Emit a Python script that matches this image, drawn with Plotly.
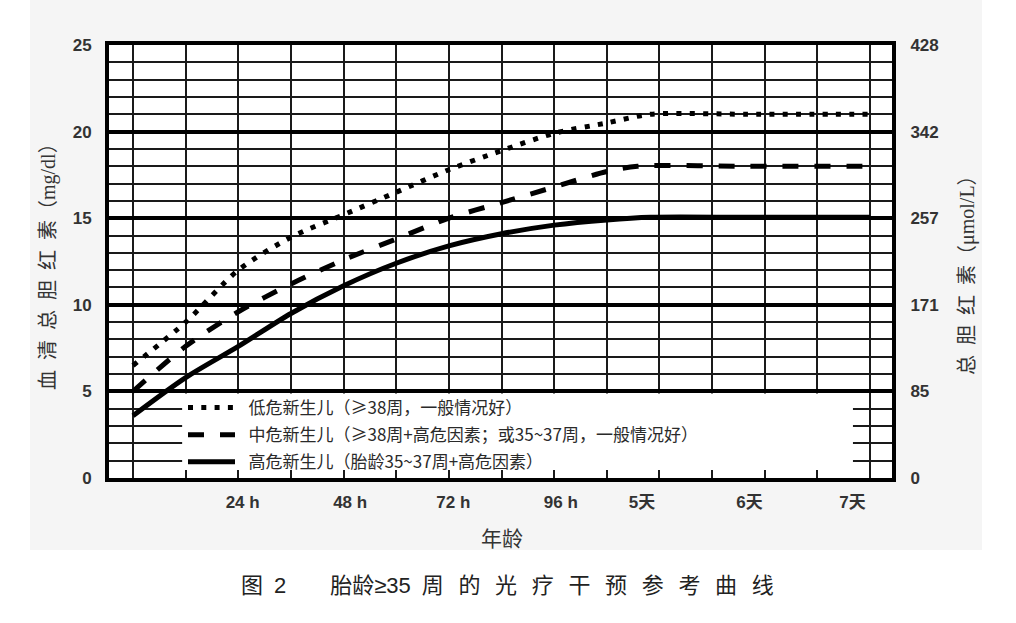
import plotly.graph_objects as go

# ---- data ----
low_hours = [0, 12, 24, 36, 48, 60, 72, 84, 96, 108, 118, 140, 168]
low_risk = [6.5, 9.0, 12.0, 13.9, 15.2, 16.5, 17.8, 18.9, 19.9, 20.5, 21.0, 21.0, 21.0]

mid_hours = [0, 12, 24, 36, 48, 60, 72, 84, 96, 108, 115, 140, 168]
mid_risk = [5.0, 7.6, 9.6, 11.2, 12.6, 13.8, 15.0, 15.9, 16.8, 17.7, 18.0, 18.0, 18.0]

high_hours = [0, 12, 24, 36, 48, 60, 72, 84, 96, 108, 118, 140, 168]
high_risk = [3.6, 5.8, 7.6, 9.5, 11.1, 12.4, 13.4, 14.1, 14.6, 14.9, 15.05, 15.05, 15.05]

series_names = [
    "低危新生儿（≥38周，一般情况好）",
    "中危新生儿（≥38周+高危因素；或35~37周，一般情况好）",
    "高危新生儿（胎龄35~37周+高危因素）",
]

x_tick_pos = [25, 49.5, 73, 97.5, 116, 140.5, 164]
x_tick_text = ["24 h", "48 h", "72 h", "96 h", "5天", "6天", "7天"]

y_left_ticks = [0, 5, 10, 15, 20, 25]
y_right_text = ["0", "85", "171", "257", "342", "428"]

# ---- figure ----
W, H = 1016, 623
L, R, T, B = 109, 124, 45, 145
pw, ph = W - L - R, H - T - B


def px_x(p):
    return (p - L) / pw


def px_y(p):
    return (H - B - p) / ph


fig = go.Figure()

styles = [
    dict(color="black", width=5, dash="5px,8.3px"),
    dict(color="black", width=5, dash="16px,16px"),
    dict(color="black", width=5),
]
for xs, ys, name, st in zip(
    [low_hours, mid_hours, high_hours],
    [low_risk, mid_risk, high_risk],
    series_names,
    styles,
):
    fig.add_trace(
        go.Scatter(
            x=xs, y=ys, mode="lines", name="\u2002" + name,
            line=dict(shape="spline", smoothing=0.8, **st),
            legendgroup=name,
        )
    )

tick_font = dict(family="Liberation Sans, Arial, Noto Sans CJK SC", size=17,
                 color="#333", weight="bold")

fig.update_layout(
    width=W, height=H,
    margin=dict(l=L, r=R, t=T, b=B, pad=0),
    paper_bgcolor="white",
    plot_bgcolor="white",
    showlegend=True,
    legend=dict(
        x=px_x(183), y=px_y(390), xanchor="left", yanchor="top",
        bgcolor="rgba(0,0,0,0)", borderwidth=0,
        itemwidth=47, tracegroupgap=2,
        font=dict(family="Noto Sans CJK SC", size=17, color="#2a2a2a"),
        itemclick=False, itemdoubleclick=False,
    ),
    xaxis=dict(
        range=[-5.47, 173.0],
        tickmode="array", tickvals=x_tick_pos, ticktext=x_tick_text,
        ticks="outside", ticklen=6, tickcolor="rgba(0,0,0,0)",
        tickfont=tick_font,
        showgrid=False, zeroline=False,
        showline=True, linewidth=4, linecolor="black", mirror=True,
        minor=dict(tick0=0, dtick=12, showgrid=True, gridcolor="#1a1a1a",
                   gridwidth=2, ticks="inside", ticklen=8, tickwidth=2,
                   tickcolor="#1a1a1a"),
        fixedrange=True,
    ),
    yaxis=dict(
        range=[0, 25],
        tickmode="array", tickvals=y_left_ticks,
        ticks="outside", ticklen=10, tickcolor="rgba(0,0,0,0)",
        tickfont=tick_font,
        showgrid=True, gridcolor="black", gridwidth=3.5,
        zeroline=False,
        showline=True, linewidth=4, linecolor="black", mirror=True,
        minor=dict(tick0=0, dtick=1, showgrid=True, gridcolor="#1a1a1a",
                   gridwidth=2),
        fixedrange=True,
    ),
    yaxis2=dict(
        range=[0, 25], overlaying="y", side="right",
        tickmode="array", tickvals=y_left_ticks, ticktext=y_right_text,
        ticks="outside", ticklen=14, tickcolor="rgba(0,0,0,0)",
        tickfont=tick_font,
        showgrid=False, zeroline=False, showline=False,
        fixedrange=True,
    ),
)

# invisible trace to anchor the right axis
fig.add_trace(go.Scatter(x=[None], y=[None], yaxis="y2", showlegend=False,
                         hoverinfo="skip"))

shapes = [
    # scanned-page grey background
    dict(type="rect", xref="paper", yref="paper", x0=px_x(30), x1=px_x(982),
         y0=px_y(550), y1=px_y(0), fillcolor="#f5f5f5", line=dict(width=0),
         layer="below"),
    dict(type="rect", xref="paper", yref="paper", x0=0, x1=1, y0=0, y1=1,
         fillcolor="white", line=dict(width=0), layer="below"),
    # white legend box that interrupts the grid
    dict(type="rect", xref="x", yref="y", x0=11.2, x1=164.1, y0=0.13, y1=4.88,
         fillcolor="white", line=dict(width=0), layer="between"),
]
fig.update_layout(shapes=shapes)

title_font = dict(family="Liberation Serif, Noto Sans CJK SC", size=20, color="#333")
annotations = [
    dict(text="血\u2002清\u2002总\u2002胆\u2002红\u2002素（mg/dl）", textangle=-90,
         xref="paper", yref="paper", x=px_x(48), y=px_y(262),
         showarrow=False, xanchor="center", yanchor="middle", font=title_font),
    dict(text="总\u2002胆\u2002红\u2002素（μmol/L）", textangle=-90,
         xref="paper", yref="paper", x=px_x(967), y=px_y(270),
         showarrow=False, xanchor="center", yanchor="middle", font=title_font),
    dict(text="年龄", xref="paper", yref="paper", x=px_x(502), y=px_y(537),
         showarrow=False, xanchor="center", yanchor="middle",
         font=dict(family="Noto Sans CJK SC", size=21, color="#333")),
    dict(text="图\u20022\u2003\u2003胎龄≥35\u2002周\u2002\u2006的\u2002\u2006光\u2002\u2006疗\u2002\u2006干\u2002\u2006预\u2002\u2006参\u2002\u2006考\u2002\u2006曲\u2002\u2006线",
         xref="paper", yref="paper", x=px_x(507), y=px_y(585),
         showarrow=False, xanchor="center", yanchor="middle",
         font=dict(family="Liberation Sans, Noto Sans CJK SC", size=22, color="#222")),
]
fig.update_layout(annotations=annotations)

fig.write_html("out.html")
